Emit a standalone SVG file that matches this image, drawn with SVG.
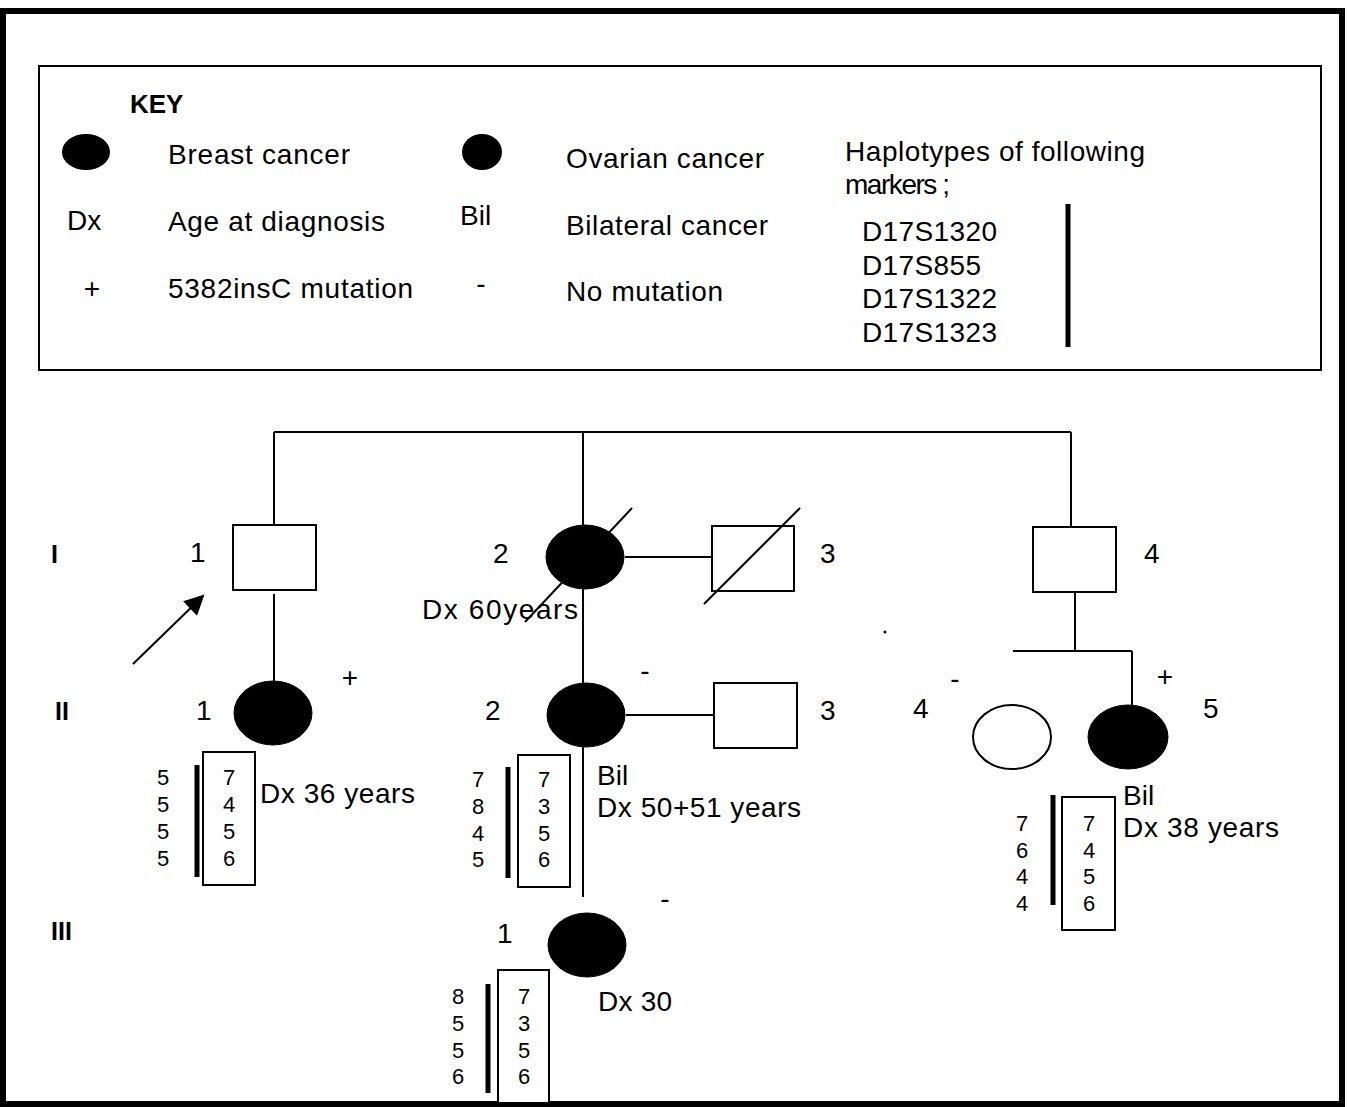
<svg xmlns="http://www.w3.org/2000/svg" width="1348" height="1107" viewBox="0 0 1348 1107">
<style>
text{font-family:"Liberation Sans",Arial,sans-serif;fill:#000}
.t{font-size:28px}
.n{font-size:22px;text-anchor:middle}
.g{font-size:25px;font-weight:bold}
.ln{stroke:#000;stroke-width:2;fill:none}
.bar{stroke:#000;stroke-width:5}
.box{fill:#fff;stroke:#000;stroke-width:2}
.aff{fill:#000;stroke:#000;stroke-width:1}
</style>
<defs>
<marker id="ah" viewBox="0 0 10 10" refX="9" refY="5" markerWidth="11" markerHeight="10" markerUnits="strokeWidth" orient="auto"><path d="M0,0L10,5L0,10z" fill="#000"/></marker>
</defs>
<rect width="1348" height="1107" fill="#fff"/>
<rect x="3" y="11" width="1339" height="1093" fill="none" stroke="#000" stroke-width="6"/>
<g id="key">
<rect x="39" y="66" width="1282" height="304" fill="none" stroke="#000" stroke-width="2"/>
<text x="130" y="113" style="font-size:26px;font-weight:bold">KEY</text>
<ellipse cx="86" cy="152" rx="24" ry="18" fill="#000"/>
<text class="t" x="168" y="164" textLength="182">Breast cancer</text>
<ellipse cx="482" cy="152" rx="20" ry="18" fill="#000"/>
<text class="t" x="566" y="168" textLength="198">Ovarian cancer</text>
<text class="t" x="845" y="161" textLength="300">Haplotypes of following</text>
<text class="t" x="845" y="194" textLength="105">markers ;</text>
<text class="t" x="67" y="230">Dx</text>
<text class="t" x="168" y="231" textLength="217">Age at diagnosis</text>
<text class="t" x="460" y="225">Bil</text>
<text class="t" x="566" y="235" textLength="202">Bilateral cancer</text>
<text class="t" x="862" y="241" textLength="135">D17S1320</text>
<text class="t" x="862" y="275" textLength="119">D17S855</text>
<text class="t" x="862" y="308" textLength="135">D17S1322</text>
<text class="t" x="862" y="342" textLength="135">D17S1323</text>
<line class="bar" x1="1068" y1="204" x2="1068" y2="347"/>
<text class="t" x="92" y="298" text-anchor="middle">+</text>
<text class="t" x="168" y="298" textLength="245">5382insC mutation</text>
<text class="t" x="481" y="293" text-anchor="middle">-</text>
<text class="t" x="566" y="301" textLength="157">No mutation</text>
</g>
<g id="gen-labels">
<text class="g" x="51" y="563">I</text>
<text class="g" x="55" y="720">II</text>
<text class="g" x="51" y="940">III</text>
</g>
<g id="connectors">
<line class="ln" x1="274" y1="432" x2="1071" y2="432"/>
<line class="ln" x1="274" y1="432" x2="274" y2="525"/>
<line class="ln" x1="583" y1="432" x2="583" y2="527"/>
<line class="ln" x1="1071" y1="432" x2="1071" y2="527"/>
<line class="ln" x1="274" y1="594" x2="274" y2="682"/>
<line class="ln" x1="625" y1="557" x2="712" y2="557"/>
<line class="ln" x1="583" y1="588" x2="583" y2="684"/>
<line class="ln" x1="626" y1="715" x2="714" y2="715"/>
<line class="ln" x1="583" y1="746" x2="583" y2="897"/>
<line class="ln" x1="1075" y1="592" x2="1075" y2="651"/>
<line class="ln" x1="1013" y1="651" x2="1132" y2="651"/>
<line class="ln" x1="1132" y1="651" x2="1132" y2="706"/>
<line class="ln" x1="133" y1="664" x2="203" y2="596" marker-end="url(#ah)"/>
</g>
<g id="I-1">
<rect class="box" x="233" y="525" width="83" height="65"/>
<text class="t" x="190" y="562">1</text>
</g>
<g id="I-2">
<ellipse class="aff" cx="585" cy="557" rx="39" ry="32"/>
<line class="ln" x1="632" y1="508" x2="525" y2="622"/>
<text class="t" x="493" y="563">2</text>
<text class="t" x="422" y="619" textLength="156">Dx  60years</text>
</g>
<g id="I-3">
<rect class="box" x="712" y="526" width="82" height="65"/>
<line class="ln" x1="704" y1="604" x2="800" y2="508"/>
<text class="t" x="820" y="563">3</text>
</g>
<g id="I-4">
<rect class="box" x="1033" y="527" width="83" height="65"/>
<text class="t" x="1144" y="563">4</text>
</g>
<g id="II-1">
<ellipse class="aff" cx="273" cy="713" rx="39" ry="32"/>
<text class="t" x="196" y="720">1</text>
<text class="t" x="350" y="687" text-anchor="middle">+</text>
<rect class="box" x="203" y="752" width="52" height="133"/>
<line class="bar" x1="197" y1="765" x2="197" y2="877"/>
<text class="n" x="163" y="785">5</text><text class="n" x="163" y="812">5</text><text class="n" x="163" y="839">5</text><text class="n" x="163" y="866">5</text>
<text class="n" x="229" y="785">7</text><text class="n" x="229" y="812">4</text><text class="n" x="229" y="839">5</text><text class="n" x="229" y="866">6</text>
<text class="t" x="260" y="803" textLength="155">Dx 36 years</text>
</g>
<g id="II-2">
<ellipse class="aff" cx="586" cy="715" rx="39" ry="32"/>
<text class="t" x="485" y="720">2</text>
<text class="t" x="645" y="680" text-anchor="middle">-</text>
<rect class="box" x="518" y="755" width="52" height="132"/>
<line class="bar" x1="508" y1="767" x2="508" y2="878"/>
<text class="n" x="478" y="787">7</text><text class="n" x="478" y="814">8</text><text class="n" x="478" y="841">4</text><text class="n" x="478" y="867">5</text>
<text class="n" x="544" y="787">7</text><text class="n" x="544" y="814">3</text><text class="n" x="544" y="841">5</text><text class="n" x="544" y="867">6</text>
<text class="t" x="597" y="785">Bil</text>
<text class="t" x="597" y="817" textLength="204">Dx 50+51 years</text>
</g>
<g id="II-3">
<rect class="box" x="714" y="683" width="83" height="65"/>
<text class="t" x="820" y="720">3</text>
</g>
<g id="II-4">
<ellipse cx="1012" cy="737" rx="39" ry="32" fill="#fff" stroke="#000" stroke-width="2"/>
<text class="t" x="913" y="718">4</text>
<text class="t" x="955" y="688" text-anchor="middle">-</text>
</g>
<g id="II-5">
<ellipse class="aff" cx="1128" cy="737" rx="40" ry="32"/>
<text class="t" x="1165" y="686" text-anchor="middle">+</text>
<text class="t" x="1203" y="718">5</text>
<rect class="box" x="1062" y="797" width="53" height="133"/>
<line class="bar" x1="1053" y1="795" x2="1053" y2="905"/>
<text class="n" x="1022" y="831">7</text><text class="n" x="1022" y="858">6</text><text class="n" x="1022" y="884">4</text><text class="n" x="1022" y="911">4</text>
<text class="n" x="1089" y="831">7</text><text class="n" x="1089" y="858">4</text><text class="n" x="1089" y="884">5</text><text class="n" x="1089" y="911">6</text>
<text class="t" x="1123" y="805">Bil</text>
<text class="t" x="1123" y="837" textLength="156">Dx 38 years</text>
</g>
<g id="III-1">
<ellipse class="aff" cx="587" cy="945" rx="39" ry="32"/>
<text class="t" x="497" y="943">1</text>
<text class="t" x="665" y="908" text-anchor="middle">-</text>
<rect class="box" x="498" y="970" width="51" height="133"/>
<line class="bar" x1="488" y1="984" x2="488" y2="1093"/>
<text class="n" x="458" y="1004">8</text><text class="n" x="458" y="1031">5</text><text class="n" x="458" y="1058">5</text><text class="n" x="458" y="1084">6</text>
<text class="n" x="524" y="1004">7</text><text class="n" x="524" y="1031">3</text><text class="n" x="524" y="1058">5</text><text class="n" x="524" y="1084">6</text>
<text class="t" x="598" y="1011" textLength="74">Dx 30</text>
</g>
<circle cx="885" cy="632" r="1.5" fill="#000"/>
</svg>
